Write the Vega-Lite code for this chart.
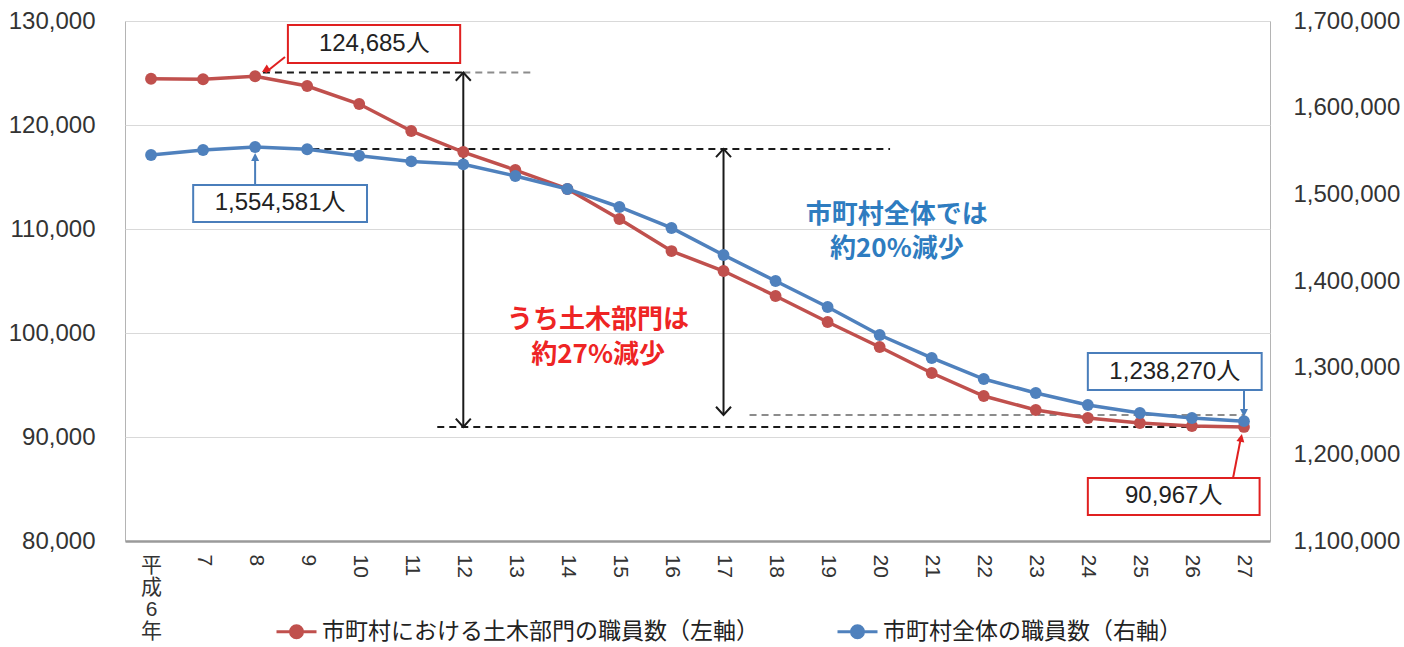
{
  "$schema": "https://vega.github.io/schema/vega-lite/v6.json",
  "width": 1145,
  "height": 520,
  "autosize": {"type": "none"},
  "padding": {"left": 125, "top": 21, "right": 134, "bottom": 106},
  "background": "white",
  "config": {
    "view": {"stroke": "#b4b4b4", "strokeWidth": 1}
  },
  "datasets": {
    "series": [
      {"year": 6, "civil": 124450, "total": 1545400},
      {"year": 7, "civil": 124400, "total": 1551200},
      {"year": 8, "civil": 124685, "total": 1554581},
      {"year": 9, "civil": 123750, "total": 1552000},
      {"year": 10, "civil": 122020, "total": 1544500},
      {"year": 11, "civil": 119420, "total": 1538000},
      {"year": 12, "civil": 117400, "total": 1534600},
      {"year": 13, "civil": 115670, "total": 1521200},
      {"year": 14, "civil": 113850, "total": 1506200},
      {"year": 15, "civil": 110960, "total": 1485400},
      {"year": 16, "civil": 107880, "total": 1461200},
      {"year": 17, "civil": 105960, "total": 1430000},
      {"year": 18, "civil": 103560, "total": 1400000},
      {"year": 19, "civil": 101060, "total": 1370000},
      {"year": 20, "civil": 98650, "total": 1337700},
      {"year": 21, "civil": 96150, "total": 1311200},
      {"year": 22, "civil": 93940, "total": 1286900},
      {"year": 23, "civil": 92600, "total": 1270800},
      {"year": 24, "civil": 91830, "total": 1256900},
      {"year": 25, "civil": 91350, "total": 1247700},
      {"year": 26, "civil": 91060, "total": 1241900},
      {"year": 27, "civil": 90967, "total": 1238270}
    ],
    "blackDash": [
      {"x": 8.15, "x2": 12, "y": 125050},
      {"x": 9.1, "x2": 20.2, "y": 117700},
      {"x": 11.5, "x2": 27, "y": 90967}
    ],
    "greyDash": [
      {"x": 12, "x2": 13.3, "y": 125050},
      {"x": 17.5, "x2": 27, "y": 92115}
    ],
    "spans": [
      {"x": 12, "top": 125050, "bottom": 90967},
      {"x": 17, "top": 117700, "bottom": 92115}
    ],
    "redBoxes": [
      {"x": 8.63, "x2": 11.94, "y": 129615, "y2": 125962},
      {"x": 24.0, "x2": 27.3, "y": 86058, "y2": 82500}
    ],
    "blueBoxes": [
      {"x": 6.81, "x2": 10.15, "y": 114231, "y2": 110673},
      {"x": 24.0, "x2": 27.34, "y": 98077, "y2": 94519}
    ],
    "boxLabels": [
      {"x": 10.29, "y": 127788, "label": "124,685人"},
      {"x": 8.48, "y": 112452, "label": "1,554,581人"},
      {"x": 25.67, "y": 96298, "label": "1,238,270人"},
      {"x": 25.65, "y": 84279, "label": "90,967人"}
    ],
    "redNote": [
      {"x": 14.59, "y": 101250, "label": "うち土木部門は"},
      {"x": 14.59, "y": 97885, "label": "約27%減少"}
    ],
    "blueNote": [
      {"x": 20.33, "y": 111346, "label": "市町村全体では"},
      {"x": 20.33, "y": 108077, "label": "約20%減少"}
    ],
    "redPointers": [
      {"x": 8.574, "y": 126538, "x2": 8.2, "y2": 125050},
      {"x": 26.79, "y": 86058, "x2": 26.94, "y2": 89900}
    ],
    "bluePointers": [
      {"x": 8.0, "y": 114135, "x2": 8.0, "y2": 117000},
      {"x": 27.0, "y": 94519, "x2": 27.0, "y2": 92300}
    ],
    "redTipTop": [{"x": 8.132, "y": 125096}],
    "redTipBottom": [{"x": 26.96, "y": 90288}],
    "blueTipUp": [{"x": 8.0, "y": 117308}],
    "blueTipDown": [{"x": 27.0, "y": 91923}]
  },
  "layer": [
    {
      "layer": [
        {
          "data": {"name": "blackDash"},
          "mark": {"type": "rule", "color": "#1a1a1a", "strokeWidth": 2, "strokeDash": [7, 5]},
          "encoding": {
            "x": {
              "field": "x", "type": "quantitative",
              "scale": {"domain": [5.5, 27.5], "nice": false, "zero": false},
              "axis": {
                "title": null,
                "values": [6, 7, 8, 9, 10, 11, 12, 13, 14, 15, 16, 17, 18, 19, 20, 21, 22, 23, 24, 25, 26, 27],
                "labelExpr": "datum.value === 6 ? ['平','成','6','年'] : datum.label",
                "labelAngle": {"expr": "datum.value === 6 ? 0 : 90"},
                "labelAlign": {"expr": "datum.value === 6 ? 'center' : 'left'"},
                "labelBaseline": {"expr": "datum.value === 6 ? 'top' : 'middle'"},
                "labelFont": "Liberation Sans, Noto Sans CJK JP",
                "labelFontSize": 21,
                "labelLineHeight": 22,
                "labelColor": "#333333",
                "labelPadding": 13,
                "labelOverlap": false,
                "labelFlush": false,
                "labelBound": false,
                "ticks": false,
                "grid": false,
                "domain": true,
                "domainColor": "#9a9a9a",
                "domainWidth": 2.5
              }
            },
            "x2": {"field": "x2"},
            "y": {"field": "y", "type": "quantitative", "scale": {"domain": [80000, 130000], "nice": false, "zero": false}}
          }
        },
        {
          "data": {"name": "greyDash"},
          "mark": {"type": "rule", "color": "#8c8c8c", "strokeWidth": 2, "strokeDash": [7, 5]},
          "encoding": {
            "x": {"field": "x", "type": "quantitative", "scale": {"domain": [5.5, 27.5], "nice": false, "zero": false}},
            "x2": {"field": "x2"},
            "y": {"field": "y", "type": "quantitative", "scale": {"domain": [80000, 130000], "nice": false, "zero": false}}
          }
        },
        {
          "data": {"name": "spans"},
          "mark": {"type": "rule", "color": "#1a1a1a", "strokeWidth": 2},
          "encoding": {
            "x": {"field": "x", "type": "quantitative", "scale": {"domain": [5.5, 27.5], "nice": false, "zero": false}},
            "y": {"field": "top", "type": "quantitative", "scale": {"domain": [80000, 130000], "nice": false, "zero": false}},
            "y2": {"field": "bottom"}
          }
        },
        {
          "data": {"name": "spans"},
          "mark": {"type": "point", "shape": "M-1,1.1L0,0L1,1.1", "filled": false, "color": "#1a1a1a", "strokeWidth": 2, "size": 225, "opacity": 1},
          "encoding": {
            "x": {"field": "x", "type": "quantitative", "scale": {"domain": [5.5, 27.5], "nice": false, "zero": false}},
            "y": {"field": "top", "type": "quantitative", "scale": {"domain": [80000, 130000], "nice": false, "zero": false}}
          }
        },
        {
          "data": {"name": "spans"},
          "mark": {"type": "point", "shape": "M-1,-1.1L0,0L1,-1.1", "filled": false, "color": "#1a1a1a", "strokeWidth": 2, "size": 225, "opacity": 1},
          "encoding": {
            "x": {"field": "x", "type": "quantitative", "scale": {"domain": [5.5, 27.5], "nice": false, "zero": false}},
            "y": {"field": "bottom", "type": "quantitative", "scale": {"domain": [80000, 130000], "nice": false, "zero": false}}
          }
        },
        {
          "data": {"name": "series"},
          "mark": {"type": "line", "strokeWidth": 3.5, "point": {"filled": true, "size": 140, "opacity": 1}},
          "encoding": {
            "x": {"field": "year", "type": "quantitative", "scale": {"domain": [5.5, 27.5], "nice": false, "zero": false}},
            "y": {
              "field": "civil", "type": "quantitative",
              "scale": {"domain": [80000, 130000], "nice": false, "zero": false},
              "axis": {
                "title": null,
                "orient": "left",
                "values": [80000, 90000, 100000, 110000, 120000, 130000],
                "format": ",",
                "labelExpr": "format(datum.value, ',')",
                "labelFont": "Liberation Sans",
                "labelFontSize": 24,
                "labelColor": "#333333",
                "labelPadding": 30,
                "ticks": false,
                "domain": false,
                "grid": true,
                "gridColor": "#d9d9d9",
                "gridWidth": 1
              }
            },
            "color": {
              "datum": "市町村における土木部門の職員数（左軸）",
              "type": "nominal",
              "scale": {
                "domain": ["市町村における土木部門の職員数（左軸）", "市町村全体の職員数（右軸）"],
                "range": ["#c0504d", "#4f81bd"]
              },
              "legend": {
                "title": null,
                "orient": "none",
                "legendX": 150,
                "legendY": 589,
                "direction": "horizontal",
                "columns": 2,
                "columnPadding": 72,
                "padding": 0,
                "labelFont": "Noto Sans CJK JP",
                "labelFontSize": 23,
                "labelColor": "#222222",
                "labelLimit": 700,
                "labelOffset": 4,
                "symbolType": "M-1,0L1,0M-0.3,0A0.3,0.3,0,1,1,0.3,0A0.3,0.3,0,1,1,-0.3,0",
                "symbolSize": 1600,
                "symbolStrokeWidth": 3,
                "encode": {
                  "symbols": {
                    "update": {
                      "fill": {"scale": "color", "field": "value"},
                      "stroke": {"scale": "color", "field": "value"},
                      "strokeWidth": {"value": 3},
                      "opacity": {"value": 1}
                    }
                  }
                }
              }
            }
          }
        }
      ]
    },
    {
      "layer": [
        {
          "data": {"name": "series"},
          "mark": {"type": "line", "strokeWidth": 3.5, "point": {"filled": true, "size": 140, "opacity": 1}},
          "encoding": {
            "x": {"field": "year", "type": "quantitative", "scale": {"domain": [5.5, 27.5], "nice": false, "zero": false}},
            "y": {
              "field": "total", "type": "quantitative",
              "scale": {"domain": [1100000, 1700000], "nice": false, "zero": false},
              "axis": {
                "title": null,
                "orient": "right",
                "values": [1100000, 1200000, 1300000, 1400000, 1500000, 1600000, 1700000],
                "format": ",",
                "labelExpr": "format(datum.value, ',')",
                "labelFont": "Liberation Sans",
                "labelFontSize": 24,
                "labelColor": "#333333",
                "labelPadding": 23,
                "ticks": false,
                "domain": false,
                "grid": false
              }
            },
            "color": {
              "datum": "市町村全体の職員数（右軸）",
              "type": "nominal",
              "scale": {
                "domain": ["市町村における土木部門の職員数（左軸）", "市町村全体の職員数（右軸）"],
                "range": ["#c0504d", "#4f81bd"]
              },
              "legend": null
            }
          }
        }
      ]
    },
    {
      "layer": [
        {
          "data": {"name": "redPointers"},
          "mark": {"type": "rule", "color": "#e02020", "strokeWidth": 2},
          "encoding": {
            "x": {"field": "x", "type": "quantitative", "scale": {"domain": [5.5, 27.5], "nice": false, "zero": false}},
            "x2": {"field": "x2"},
            "y": {"field": "y", "type": "quantitative", "scale": {"domain": [80000, 130000], "nice": false, "zero": false}, "axis": null},
            "y2": {"field": "y2"}
          }
        },
        {
          "data": {"name": "bluePointers"},
          "mark": {"type": "rule", "color": "#4a7ebb", "strokeWidth": 2},
          "encoding": {
            "x": {"field": "x", "type": "quantitative", "scale": {"domain": [5.5, 27.5], "nice": false, "zero": false}},
            "x2": {"field": "x2"},
            "y": {"field": "y", "type": "quantitative", "scale": {"domain": [80000, 130000], "nice": false, "zero": false}, "axis": null},
            "y2": {"field": "y2"}
          }
        },
        {
          "data": {"name": "redTipTop"},
          "mark": {"type": "point", "shape": "M0,0L0.7,1.4L-0.7,1.4Z", "filled": true, "color": "#e02020", "size": 130, "angle": 239, "opacity": 1},
          "encoding": {
            "x": {"field": "x", "type": "quantitative", "scale": {"domain": [5.5, 27.5], "nice": false, "zero": false}},
            "y": {"field": "y", "type": "quantitative", "scale": {"domain": [80000, 130000], "nice": false, "zero": false}, "axis": null}
          }
        },
        {
          "data": {"name": "redTipBottom"},
          "mark": {"type": "point", "shape": "M0,0L0.7,1.4L-0.7,1.4Z", "filled": true, "color": "#e02020", "size": 130, "angle": 11, "opacity": 1},
          "encoding": {
            "x": {"field": "x", "type": "quantitative", "scale": {"domain": [5.5, 27.5], "nice": false, "zero": false}},
            "y": {"field": "y", "type": "quantitative", "scale": {"domain": [80000, 130000], "nice": false, "zero": false}, "axis": null}
          }
        },
        {
          "data": {"name": "blueTipUp"},
          "mark": {"type": "point", "shape": "M0,0L0.7,1.4L-0.7,1.4Z", "filled": true, "color": "#4a7ebb", "size": 130, "angle": 0, "opacity": 1},
          "encoding": {
            "x": {"field": "x", "type": "quantitative", "scale": {"domain": [5.5, 27.5], "nice": false, "zero": false}},
            "y": {"field": "y", "type": "quantitative", "scale": {"domain": [80000, 130000], "nice": false, "zero": false}, "axis": null}
          }
        },
        {
          "data": {"name": "blueTipDown"},
          "mark": {"type": "point", "shape": "M0,0L0.7,1.4L-0.7,1.4Z", "filled": true, "color": "#4a7ebb", "size": 130, "angle": 180, "opacity": 1},
          "encoding": {
            "x": {"field": "x", "type": "quantitative", "scale": {"domain": [5.5, 27.5], "nice": false, "zero": false}},
            "y": {"field": "y", "type": "quantitative", "scale": {"domain": [80000, 130000], "nice": false, "zero": false}, "axis": null}
          }
        },
        {
          "data": {"name": "redBoxes"},
          "mark": {"type": "rect", "fill": "white", "stroke": "#e02020", "strokeWidth": 2},
          "encoding": {
            "x": {"field": "x", "type": "quantitative", "scale": {"domain": [5.5, 27.5], "nice": false, "zero": false}},
            "x2": {"field": "x2"},
            "y": {"field": "y", "type": "quantitative", "scale": {"domain": [80000, 130000], "nice": false, "zero": false}, "axis": null},
            "y2": {"field": "y2"}
          }
        },
        {
          "data": {"name": "blueBoxes"},
          "mark": {"type": "rect", "fill": "white", "stroke": "#4a7ebb", "strokeWidth": 2},
          "encoding": {
            "x": {"field": "x", "type": "quantitative", "scale": {"domain": [5.5, 27.5], "nice": false, "zero": false}},
            "x2": {"field": "x2"},
            "y": {"field": "y", "type": "quantitative", "scale": {"domain": [80000, 130000], "nice": false, "zero": false}, "axis": null},
            "y2": {"field": "y2"}
          }
        },
        {
          "data": {"name": "boxLabels"},
          "mark": {"type": "text", "font": "Liberation Sans, Noto Sans CJK JP", "fontSize": 24, "color": "#222222", "align": "center", "baseline": "middle"},
          "encoding": {
            "x": {"field": "x", "type": "quantitative", "scale": {"domain": [5.5, 27.5], "nice": false, "zero": false}},
            "y": {"field": "y", "type": "quantitative", "scale": {"domain": [80000, 130000], "nice": false, "zero": false}, "axis": null},
            "text": {"field": "label"}
          }
        },
        {
          "data": {"name": "redNote"},
          "mark": {"type": "text", "font": "Noto Sans CJK JP", "fontWeight": "bold", "fontSize": 26, "color": "#ee2424", "align": "center", "baseline": "middle"},
          "encoding": {
            "x": {"field": "x", "type": "quantitative", "scale": {"domain": [5.5, 27.5], "nice": false, "zero": false}},
            "y": {"field": "y", "type": "quantitative", "scale": {"domain": [80000, 130000], "nice": false, "zero": false}, "axis": null},
            "text": {"field": "label"}
          }
        },
        {
          "data": {"name": "blueNote"},
          "mark": {"type": "text", "font": "Noto Sans CJK JP", "fontWeight": "bold", "fontSize": 26, "color": "#2e7cc0", "align": "center", "baseline": "middle"},
          "encoding": {
            "x": {"field": "x", "type": "quantitative", "scale": {"domain": [5.5, 27.5], "nice": false, "zero": false}},
            "y": {"field": "y", "type": "quantitative", "scale": {"domain": [80000, 130000], "nice": false, "zero": false}, "axis": null},
            "text": {"field": "label"}
          }
        }
      ]
    }
  ],
  "resolve": {"scale": {"y": "independent"}}
}
